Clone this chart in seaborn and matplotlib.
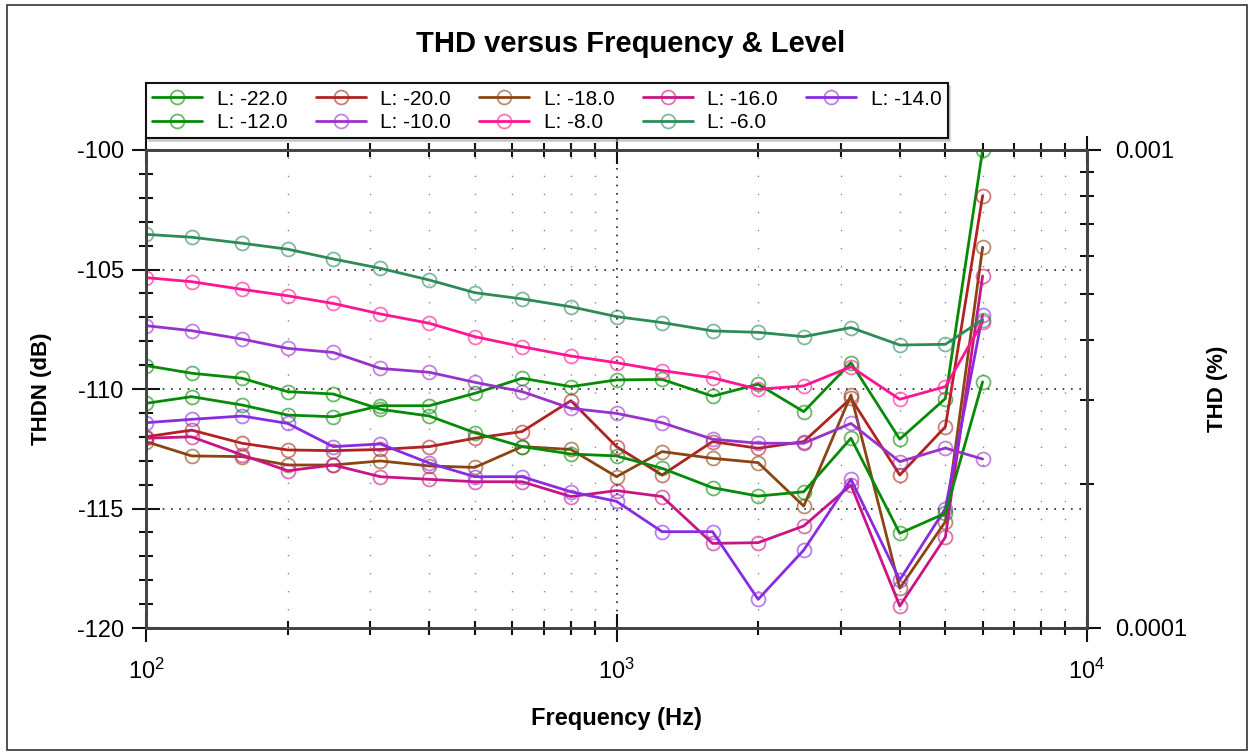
import matplotlib
matplotlib.use("Agg")
import matplotlib.pyplot as plt
import matplotlib.ticker as mticker
from matplotlib.patches import Rectangle
from matplotlib.colors import to_rgba
import seaborn as sns
import numpy as np

# ---------------- data ----------------
freqs = [100, 125, 160, 200, 250, 315, 400, 500, 630, 800, 1000,
         1250, 1600, 2000, 2500, 3150, 4000, 5000, 6000]

levels = [-22.0, -20.0, -18.0, -16.0, -14.0, -12.0, -10.0, -8.0, -6.0]

thdn_m22 = [-110.6, -110.32, -110.67, -111.09, -111.16, -110.7, -110.7, -110.18, -109.55, -109.9,
            -109.62, -109.6, -110.3, -109.8, -110.95, -108.9, -112.1, -110.4, -100.0]
thdn_m20 = [-112.0, -111.72, -112.27, -112.55, -112.58, -112.53, -112.41, -112.06, -111.78, -110.49,
            -112.41, -113.6, -112.2, -112.48, -112.2, -110.39, -113.6, -111.58, -101.92]
thdn_m18 = [-112.2, -112.8, -112.83, -113.18, -113.18, -113.01, -113.22, -113.28, -112.41, -112.53,
            -113.67, -112.62, -112.9, -113.08, -114.9, -110.25, -118.34, -115.55, -104.07]
thdn_m16 = [-112.06, -112.0, -112.76, -113.42, -113.18, -113.67, -113.78, -113.88, -113.88, -114.5,
            -114.25, -114.5, -116.46, -116.43, -115.73, -114.02, -119.08, -116.2, -105.27]
thdn_m14 = [-111.41, -111.27, -111.13, -111.44, -112.41, -112.3, -113.1, -113.67, -113.67, -114.3,
            -114.7, -115.97, -115.97, -118.8, -116.74, -113.78, -117.99, -115.0, -106.9]
thdn_m12 = [-109.02, -109.34, -109.55, -110.11, -110.21, -110.85, -111.13, -111.83, -112.41, -112.72,
            -112.8, -113.32, -114.13, -114.48, -114.3, -112.06, -116.04, -115.2, -109.7]
thdn_m10 = [-107.35, -107.56, -107.91, -108.3, -108.47, -109.14, -109.3, -109.72, -110.11, -110.81,
            -111.02, -111.41, -112.1, -112.27, -112.27, -111.44, -113.04, -112.47, -112.93]
thdn_m8 = [-105.34, -105.51, -105.83, -106.1, -106.42, -106.86, -107.25, -107.81, -108.23, -108.62,
           -108.9, -109.23, -109.53, -110.01, -109.87, -109.07, -110.43, -109.9, -107.2]
thdn_m6 = [-103.53, -103.65, -103.9, -104.15, -104.56, -104.95, -105.44, -105.97, -106.23, -106.56,
           -106.97, -107.22, -107.57, -107.63, -107.81, -107.43, -108.16, -108.13, -107.1]

series = [thdn_m22, thdn_m20, thdn_m18, thdn_m16, thdn_m14,
          thdn_m12, thdn_m10, thdn_m8, thdn_m6]
colors = ["#078a07", "#b22222", "#8b4513", "#c71585", "#8a2be2",
          "#078a07", "#9932cc", "#ff1493", "#2e8b57"]

# ---------------- style ----------------
sns.set_style("white")
plt.rcParams['font.family'] = ['Liberation Sans', 'DejaVu Sans']
plt.rcParams['mathtext.fontset'] = 'custom'
plt.rcParams['mathtext.rm'] = 'Liberation Sans'
plt.rcParams['axes.unicode_minus'] = False
for k in ['text.color', 'axes.labelcolor', 'xtick.color', 'ytick.color',
          'xtick.labelcolor', 'ytick.labelcolor']:
    plt.rcParams[k] = 'black'

fig = plt.figure(figsize=(12.51, 7.54), dpi=100)
ax = fig.add_axes([146/1251, 1-628/754, (1087-146)/1251, (628-150)/754])

for lvl, vals, c in zip(levels, series, colors):
    sns.lineplot(x=freqs, y=vals, ax=ax, color=c, linewidth=2.0,
                 marker='o', markersize=10, markerfacecolor='none',
                 markeredgecolor=to_rgba(c, 0.6), markeredgewidth=1.3,
                 label=f"L: {lvl:.1f}", legend=False, zorder=3)

ax.set_xscale('log')
ax.set_xlim(100, 10000)
ax.set_ylim(-120, -100)

ax.yaxis.set_major_locator(mticker.MultipleLocator(5))
ax.yaxis.set_minor_locator(mticker.MultipleLocator(1))
ax.xaxis.set_major_locator(mticker.LogLocator(base=10, numticks=10))
ax.xaxis.set_minor_locator(mticker.LogLocator(base=10, subs=np.arange(2, 10), numticks=20))
ax.xaxis.set_minor_formatter(mticker.NullFormatter())

# grid
ax.grid(False)
ax.grid(True, which='major', axis='y', color='#222222', linestyle=(0, (1, 4)), linewidth=1.2)
ax.grid(True, which='major', axis='x', color='#222222', linestyle=(0, (1, 4)), linewidth=1.2)
ax.grid(True, which='minor', axis='x', color='#888888', linestyle=(0, (1, 12)), linewidth=1.0)
ax.set_axisbelow(True)

for s in ax.spines.values():
    s.set_color('#444444')
    s.set_linewidth(2.0)

ax.tick_params(which='major', direction='inout', length=20, width=1.5, color='#111111',
               labelsize=17, left=True, bottom=True, top=True, right=False, pad=6)
ax.tick_params(which='minor', direction='inout', length=10, width=1.5, color='#111111',
               left=True, bottom=True, top=True, right=False)
ax.tick_params(axis='x', which='major', pad=12)

ax.set_xlabel("Frequency (Hz)", fontsize=17, fontweight='bold')
ax.set_ylabel("THDN (dB)", fontsize=16, fontweight='bold')
ax.xaxis.set_label_coords(0.5, -0.165)
ax.yaxis.set_label_coords(-0.100, 0.5)

# right axis (THD %)
ax2 = ax.twinx()
ax2.set_yscale('log')
ax2.set_ylim(1e-4, 1e-3)
ax2.yaxis.set_major_locator(mticker.FixedLocator([1e-4, 1e-3]))
ax2.yaxis.set_major_formatter(mticker.FixedFormatter(["0.0001", "0.001"]))
ax2.yaxis.set_minor_locator(mticker.LogLocator(base=10, subs=np.arange(2, 10), numticks=20))
ax2.yaxis.set_minor_formatter(mticker.NullFormatter())
ax2.tick_params(which='major', direction='inout', length=20, width=1.5, color='#111111',
                labelsize=17, pad=10)
ax2.tick_params(which='minor', direction='inout', length=10, width=1.5, color='#111111')
for s in ax2.spines.values():
    s.set_color('#444444')
    s.set_linewidth(2.0)
ax2.grid(False)
ax2.set_ylabel("THD (%)", fontsize=16, fontweight='bold')
ax2.yaxis.set_label_coords(1.128, 0.5)

# legend (row-major order across 5 columns)
h, l = ax.get_legend_handles_labels()
order = [0, 5, 1, 6, 2, 7, 3, 8, 4]
leg = ax.legend([h[i] for i in order], [l[i] for i in order], ncol=5,
                loc='lower left', bbox_to_anchor=(0.0, 1.025), borderaxespad=0,
                fontsize=15, frameon=True, fancybox=False, edgecolor='#111111',
                handlelength=2.4, handletextpad=0.7, columnspacing=1.35,
                labelspacing=0.2, borderpad=0.3,
                shadow={'ox': 2, 'oy': -2, 'color': '0.7'})
leg.get_frame().set_linewidth(1.5)

fig.text(0.504, 1 - 44/754, "THD versus Frequency & Level", ha='center', va='center',
         fontsize=21, fontweight='bold')

# outer frame
fig.patches.append(Rectangle((7/1251, 4/754), (1247-7)/1251, (749-4)/754,
                             transform=fig.transFigure, fill=False,
                             edgecolor='#333333', linewidth=1.2))

fig.savefig("out.png", dpi=100)
